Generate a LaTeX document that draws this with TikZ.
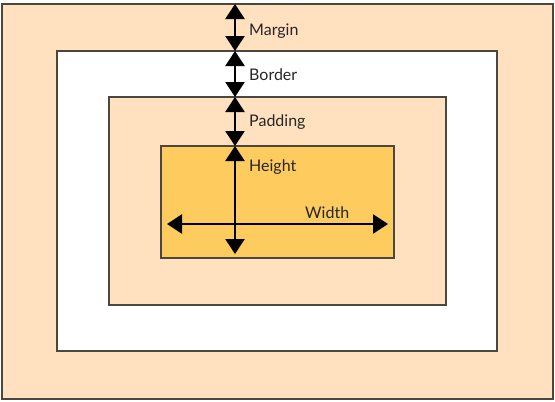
\documentclass[tikz,border=0pt]{standalone}
\usepackage{fontspec}
\setmainfont{Lato}
\usetikzlibrary{arrows.meta,positioning,shadows}
\definecolor{peach}{HTML}{FFE0BF}
\definecolor{gold}{HTML}{FDCB5E}
\definecolor{edge}{HTML}{4A4640}

\begin{document}
\begin{tikzpicture}[x=1pt,y=-1pt,every node/.style={font=\fontsize{16}{18}\selectfont,text=black!85}]
\tikzset{
  layer/.style={draw=edge,line width=1.2pt,inner sep=0pt,outer sep=0pt,
    drop shadow={shadow xshift=1pt,shadow yshift=-1pt,fill=black!45,opacity=.4}},
  dim/.style={line width=2.4pt,{Triangle[width=19pt,length=15pt]}-{Triangle[width=19pt,length=15pt]}},
  tag/.style={anchor=west,inner sep=0pt}
}
\useasboundingbox (0,0) rectangle (555,402);
% nested boxes
\node[layer,fill=peach,minimum width=551pt,minimum height=395pt] (margin) at (277.5,201.5) {};
\node[layer,fill=white,minimum width=440pt,minimum height=300pt] (border) at (277,201) {};
\node[layer,fill=peach,minimum width=337pt,minimum height=208pt] (padding) at (277.5,201) {};
\node[layer,fill=gold,minimum width=233pt,minimum height=112pt] (content) at (277.5,202) {};
\coordinate (hx) at (235,0);
% stacked dimensions
\foreach \a/\b/\t/\y in {margin/border/Margin/31,border/padding/Border/75,padding/content/Padding/122}{
  \draw[dim] (\a.north -| hx) -- (\b.north -| hx);
  \node[tag] (\a-lbl) at (249,\y) {\t};
}
\coordinate (hb) at (235,254);
\draw[dim] (content.north -| hx) -- (hb);
\node[tag] (height) at (249,167) {Height};
\coordinate (wl) at (167,224);
\coordinate (wr) at (388,224);
\draw[dim] (wl) -- (wr);
\node[tag] (width) at (305,213) {Width};
\end{tikzpicture}
\end{document}
